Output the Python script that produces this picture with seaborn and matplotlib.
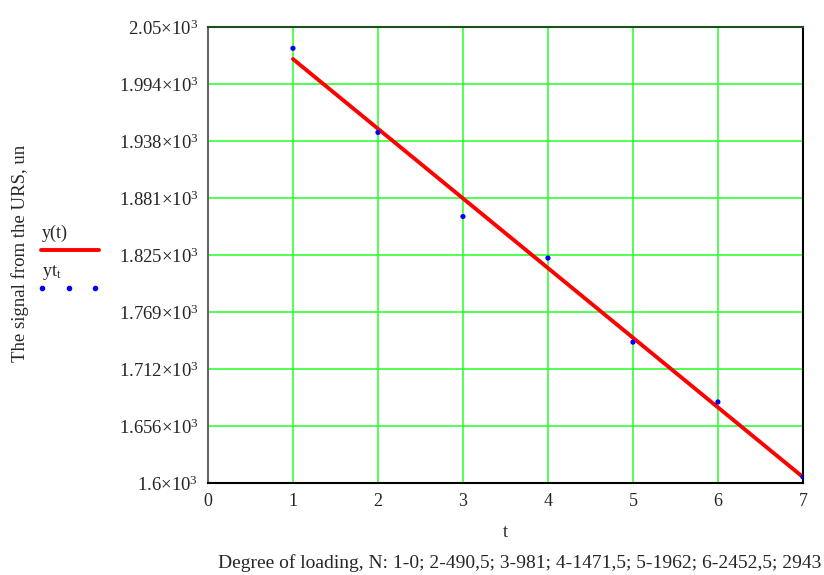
import numpy as np
import pandas as pd
import matplotlib
matplotlib.use("Agg")
import matplotlib.pyplot as plt
import seaborn as sns
from matplotlib.lines import Line2D

# data
t_vals = [1, 2, 3, 4, 5, 6, 7]
signal = [2029, 1946, 1863, 1822, 1739, 1680, 1606]
ytick_vals = [1600, 1656.25, 1712.5, 1768.75, 1825, 1881.25, 1937.5, 1993.75, 2050]
ytick_text = ["1.6", "1.656", "1.712", "1.769", "1.825", "1.881", "1.938", "1.994", "2.05"]
xtick_vals = [0, 1, 2, 3, 4, 5, 6, 7]
footer = "Degree of loading, N: 1-0; 2-490,5; 3-981; 4-1471,5; 5-1962; 6-2452,5; 2943"


def main():
    sns.set_theme(style="white")
    plt.rcParams['font.family'] = ['Liberation Serif', 'DejaVu Serif']
    plt.rcParams['mathtext.fontset'] = 'custom'
    plt.rcParams['mathtext.rm'] = 'Liberation Serif'
    plt.rcParams['mathtext.it'] = 'Liberation Serif'

    df = pd.DataFrame({'t': t_vals, 'y': signal})
    # linear fit y(t)
    k, b = np.polyfit(df['t'], df['y'], 1)
    fit = pd.DataFrame({'t': [t_vals[0], t_vals[-1]]})
    fit['y'] = k * fit['t'] + b

    fig = plt.figure(figsize=(8.24, 5.75), dpi=100)
    ax = fig.add_axes([0.2524, 0.16, 0.722, 0.793])

    sns.lineplot(data=fit, x='t', y='y', color='#ff0000', linewidth=2.8, ax=ax, zorder=3)
    sns.scatterplot(data=df, x='t', y='y', color='#0000ff', s=14, edgecolor='none', ax=ax, zorder=4)

    ax.set_xlim(0, 7)
    ax.set_ylim(1600, 2050)
    ax.set_xticks(xtick_vals)
    ax.set_xticklabels([str(v) for v in xtick_vals], fontsize=13)
    ax.set_yticks(ytick_vals)
    ax.set_yticklabels([s + r"$\times$10$^{3}$" for s in ytick_text], fontsize=13.5)
    ax.tick_params(axis='both', length=0, pad=7)
    ax.grid(True, color='#33ff33', linewidth=1.2)
    ax.set_axisbelow(True)

    ax.spines['left'].set_color('#666666')
    ax.spines['bottom'].set_color('black')
    ax.spines['right'].set_color('black')
    ax.spines['top'].set_color('#1e4d1e')
    for s in ax.spines.values():
        s.set_linewidth(1.5)

    ax.set_xlabel('t', fontsize=13, labelpad=10)
    ax.set_ylabel('')

    fig.text(0.024, 0.56, 'The signal from the URS, un', rotation=90,
             ha='center', va='center', fontsize=13.5)
    fig.text(218 / 824, 1 - 563 / 575, footer, ha='left', va='center', fontsize=14)

    # legend on the left, Mathcad style
    fig.text(42 / 824, 1 - 233 / 575, 'y(t)', ha='left', va='center', fontsize=13)
    fig.add_artist(Line2D([41 / 824, 99 / 824], [1 - 250 / 575] * 2,
                          color='#ff0000', linewidth=2.8))
    fig.text(42 / 824, 1 - 273 / 575, 'yt$_{t}$', ha='left', va='center', fontsize=13)
    fig.add_artist(Line2D([42 / 824, 69 / 824, 95 / 824], [1 - 288 / 575] * 3,
                          color='#0000ff', linestyle='none', marker='o', markersize=3))

    fig.savefig('out.png', dpi=100)


if __name__ == "__main__":
    main()
